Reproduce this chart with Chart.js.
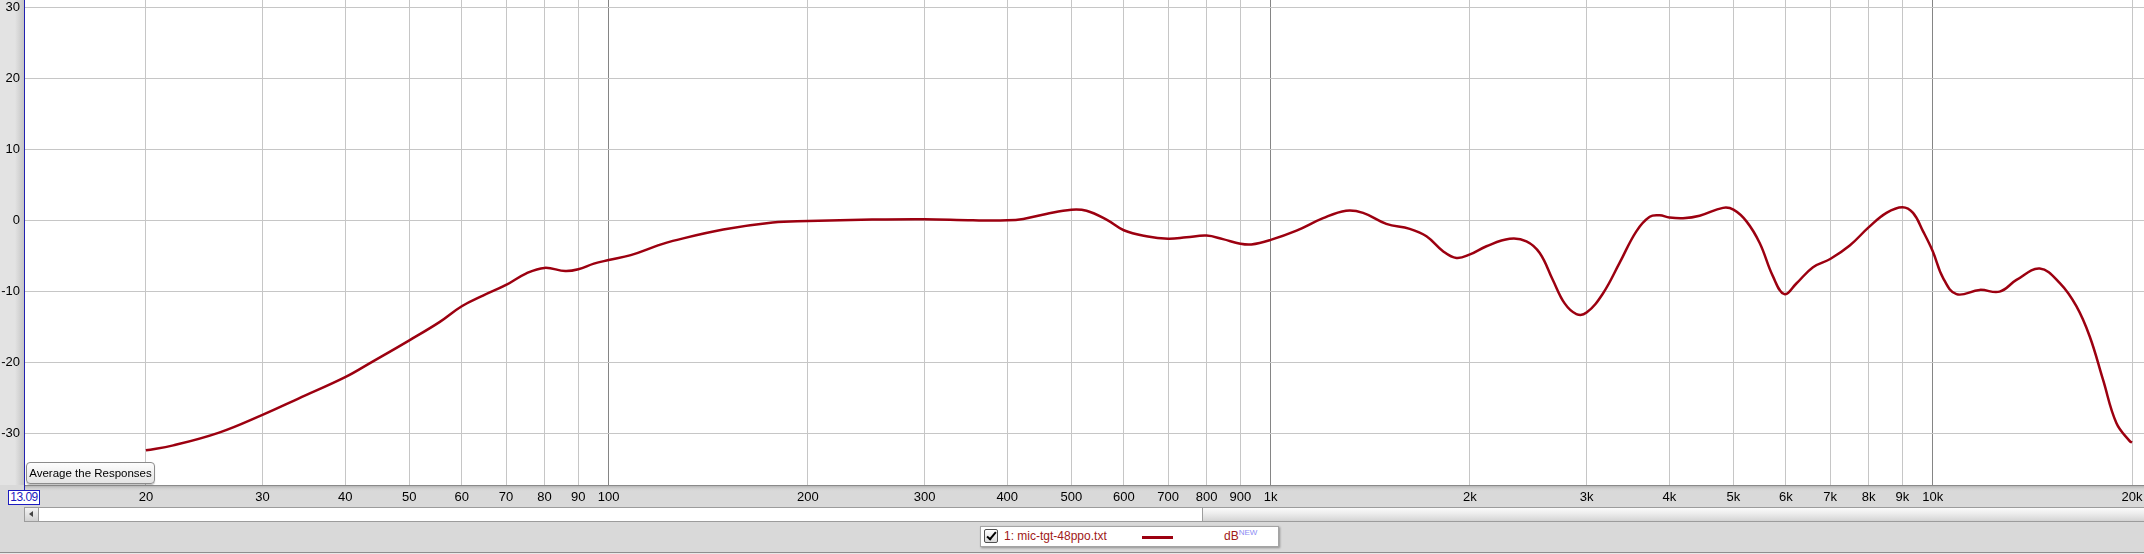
<!DOCTYPE html>
<html>
<head>
<meta charset="utf-8">
<title>mic-tgt-48ppo</title>
<script src="https://cdn.jsdelivr.net/npm/chart.js@4.4.1/dist/chart.umd.min.js"></script>
<style>
  html, body { margin: 0; padding: 0; }
  body {
    width: 2144px; height: 554px; overflow: hidden; position: relative;
    background: #d9d9d9;
    font-family: "Liberation Sans", Arial, sans-serif;
  }
  #yside {
    position: absolute; left: 0; top: 0; width: 24px; height: 485px;
    background: linear-gradient(to right, #e3e3e3 0, #e3e3e3 15px, #c4c4c4 24px);
  }
  #wrap { position: absolute; left: 0; top: 0; width: 2144px; height: 506px; }
  #startFreq {
    position: absolute; left: 8px; top: 490px; width: 30px; height: 13px;
    border: 1px solid #1c1cc0; background: #fff; color: #1c1cc0;
    font-size: 12px; line-height: 13px; text-align: center; white-space: nowrap;
    letter-spacing: -0.5px; overflow: hidden;
  }
  #avgBtn {
    position: absolute; left: 26px; top: 462px; width: 127px; height: 20px;
    border: 1px solid #8c8c8c; border-radius: 4px;
    background: linear-gradient(#fdfdfd, #e4e4e4);
    box-shadow: 0 1px 1px rgba(0,0,0,0.25);
    font-size: 11.5px; line-height: 20px; text-align: center; color: #000;
    white-space: nowrap;
  }
  #track {
    position: absolute; left: 24px; top: 507px; width: 2120px; height: 15px;
    box-sizing: border-box; background: #fff;
    border-top: 1px solid #9c9c9c; border-bottom: 1px solid #9c9c9c;
  }
  #larrow {
    position: absolute; left: 24px; top: 507px; width: 15px; height: 15px;
    box-sizing: border-box; border: 1px solid #9c9c9c;
    background: linear-gradient(#f4f4f4, #d2d2d2);
  }
  #larrow:after {
    content: ""; position: absolute; left: 4px; top: 3px;
    border-top: 3.5px solid transparent; border-bottom: 3.5px solid transparent;
    border-right: 4px solid #444;
  }
  #thumb {
    position: absolute; left: 1202px; top: 507px; width: 942px; height: 15px;
    box-sizing: border-box; border: 1px solid #9c9c9c; border-right: none;
    background: linear-gradient(#fbfbfb 0, #ececec 45%, #d4d4d4 100%);
  }
  #bottomLine { position: absolute; left: 0; top: 552px; width: 2144px; height: 1px; background: #8e8e8e; }
  #bottomRest { position: absolute; left: 0; top: 553px; width: 2144px; height: 1px; background: #e8e8e8; }
  #legend {
    position: absolute; left: 980px; top: 526px; width: 297px; height: 19px;
    background: #fff; border: 1px solid #a4a4a4;
    box-shadow: 1px 1px 2px rgba(0,0,0,0.35);
    font-size: 12px; color: #a01818;
  }
  #legend .box {
    position: absolute; left: 3px; top: 2px; width: 12px; height: 12px;
    border: 1px solid #505050; border-radius: 2px;
    background: linear-gradient(#ffffff, #dadada);
  }
  #legend .box:after {
    content: ""; position: absolute; left: 4px; top: 0px; width: 3px; height: 8px;
    border-right: 2px solid #000; border-bottom: 2px solid #000;
    transform: rotate(40deg);
  }
  #legend .name { position: absolute; left: 23px; top: 3px; line-height: 13px; }
  #legend .swatch { position: absolute; left: 161px; top: 9px; width: 31px; height: 3px; background: #9c0010; }
  #legend .unit { position: absolute; left: 243px; top: 3px; line-height: 13px; }
  #legend .unit sup { color: #8c8cf4; font-size: 8px; vertical-align: 5px; line-height: 0; }
</style>
</head>
<body>
<div id="yside"></div>
<div id="wrap"><canvas id="plot" width="2144" height="506"></canvas></div>
<div id="startFreq">13.09</div>
<div id="avgBtn">Average the Responses</div>
<div id="track"></div>
<div id="larrow"></div>
<div id="thumb"></div>
<div id="bottomLine"></div>
<div id="bottomRest"></div>
<div id="legend">
  <span class="box"></span>
  <span class="name">1: mic-tgt-48ppo.txt</span>
  <span class="swatch"></span>
  <span class="unit">dB<sup>NEW</sup></span>
</div>
<script>
const freqHz = [
  20, 22, 25.8, 30, 34, 40, 44, 50, 55.6, 60, 64.6, 70, 75, 80, 86, 90, 95, 100,
  108, 119, 125, 149, 177, 200, 250, 300, 355, 400, 423, 458, 500, 527, 565,
  600, 649, 700, 746, 800, 847, 900, 935, 1000, 1094, 1200, 1300, 1379, 1495,
  1622, 1719, 1821, 1908, 2000, 2118, 2296, 2434, 2549, 2668, 2780, 2896, 3000,
  3176, 3365, 3567, 3737, 3869, 4000, 4196, 4446, 4822, 5000, 5232, 5478, 5737,
  5970, 6223, 6594, 7000, 7493, 8000, 8513, 9000, 9338, 9670, 10000, 10364,
  10860, 11775, 12620, 13380, 14510, 15560, 16480, 17270, 18080, 18940, 19840, 20000
];
const levelDb = [
  -32.4, -31.7, -29.9, -27.4, -25.1, -22.1, -19.9, -16.9, -14.3, -12.1, -10.6, -9.1, -7.5, -6.7, -7.15, -6.9, -6.1, -5.6,
  -4.9, -3.5, -2.9, -1.3, -0.3, -0.1, 0.1, 0.15, 0.0, 0.0, 0.2, 0.9, 1.5, 1.35, 0.1,
  -1.4, -2.25, -2.6, -2.4, -2.15, -2.65, -3.3, -3.4, -2.75, -1.45, 0.3, 1.35, 1.05, -0.5,
  -1.2, -2.25, -4.35, -5.3, -4.8, -3.65, -2.6, -2.95, -4.6, -8.4, -11.7, -13.2, -13.0,
  -10.3, -6.0, -1.55, 0.5, 0.7, 0.4, 0.3, 0.65, 1.75, 1.5, -0.15, -3.2, -7.9,
  -10.4, -8.9, -6.6, -5.45, -3.55, -1.0, 1.05, 1.85, 1.05, -1.55, -4.35, -8.1,
  -10.4, -9.8, -10.05, -8.4, -6.8, -8.85, -12.1, -16.4, -22.45, -28.55, -31.1, -31.3
];

const xTicks = [20, 30, 40, 50, 60, 70, 80, 90, 100, 200, 300, 400, 500, 600, 700, 800, 900,
  1000, 2000, 3000, 4000, 5000, 6000, 7000, 8000, 9000, 10000, 20000];
const xTickLabels = ['20', '30', '40', '50', '60', '70', '80', '90', '100', '200', '300', '400', '500',
  '600', '700', '800', '900', '1k', '2k', '3k', '4k', '5k', '6k', '7k', '8k', '9k', '10k', '20k'];
const decadeLines = [100, 1000, 10000];
const yTicks = [-30, -20, -10, 0, 10, 20, 30];

const fontFamily = '"Liberation Sans", Arial, sans-serif';

// white plot background, blue left axis line, shadow under the plot
const panelPlugin = {
  id: 'panel',
  beforeDraw(chart) {
    const { ctx, chartArea: a } = chart;
    ctx.save();
    ctx.fillStyle = '#ffffff';
    ctx.fillRect(a.left, a.top, a.right - a.left, a.bottom - a.top);
    ctx.restore();
  },
  afterDraw(chart) {
    const { ctx, chartArea: a } = chart;
    ctx.save();
    ctx.fillStyle = '#8a8a8a';
    ctx.fillRect(a.left, a.bottom, a.right - a.left, 1);
    const g = ctx.createLinearGradient(0, a.bottom + 1, 0, a.bottom + 6);
    g.addColorStop(0, '#b4b4b4');
    g.addColorStop(1, 'rgba(217,217,217,0)');
    ctx.fillStyle = g;
    ctx.fillRect(a.left, a.bottom + 1, a.right - a.left, 5);
    ctx.fillStyle = '#2222b0';
    ctx.fillRect(a.left, 0, 1, a.bottom + 6);
    ctx.restore();
  }
};

new Chart(document.getElementById('plot'), {
  type: 'line',
  data: {
    datasets: [{
      data: freqHz.map((f, i) => ({ x: f, y: levelDb[i] })),
      borderColor: '#9c0010',
      borderWidth: 2.5,
      pointRadius: 0,
      fill: false,
      tension: 0.4
    }]
  },
  options: {
    responsive: false,
    animation: false,
    devicePixelRatio: 1,
    layout: { padding: 0 },
    plugins: {
      legend: { display: false },
      tooltip: { enabled: false }
    },
    scales: {
      x: {
        type: 'logarithmic',
        min: 13.09,
        max: 20850,
        afterBuildTicks: s => { s.ticks = xTicks.map(v => ({ value: v })) },
        afterFit: s => { s.height = 21; s.paddingLeft = 0; s.paddingRight = 0 },
        ticks: {
          autoSkip: false,
          maxRotation: 0,
          padding: 5,
          color: '#000',
          font: { family: fontFamily, size: 13 },
          callback: (v, i) => xTickLabels[i]
        },
        grid: {
          drawTicks: false,
          color: c => (c.tick && decadeLines.includes(c.tick.value)) ? '#858585' : '#c6c6c6'
        },
        border: { display: false }
      },
      y: {
        type: 'linear',
        min: -37.28,
        max: 31.03,
        afterBuildTicks: s => { s.ticks = yTicks.map(v => ({ value: v })) },
        afterFit: s => { s.width = 24; s.paddingTop = 0; s.paddingBottom = 0 },
        ticks: {
          padding: 4,
          color: '#000',
          font: { family: fontFamily, size: 13 }
        },
        grid: { drawTicks: false, color: '#c6c6c6' },
        border: { display: false }
      }
    }
  },
  plugins: [panelPlugin]
});
</script>
</body>
</html>
